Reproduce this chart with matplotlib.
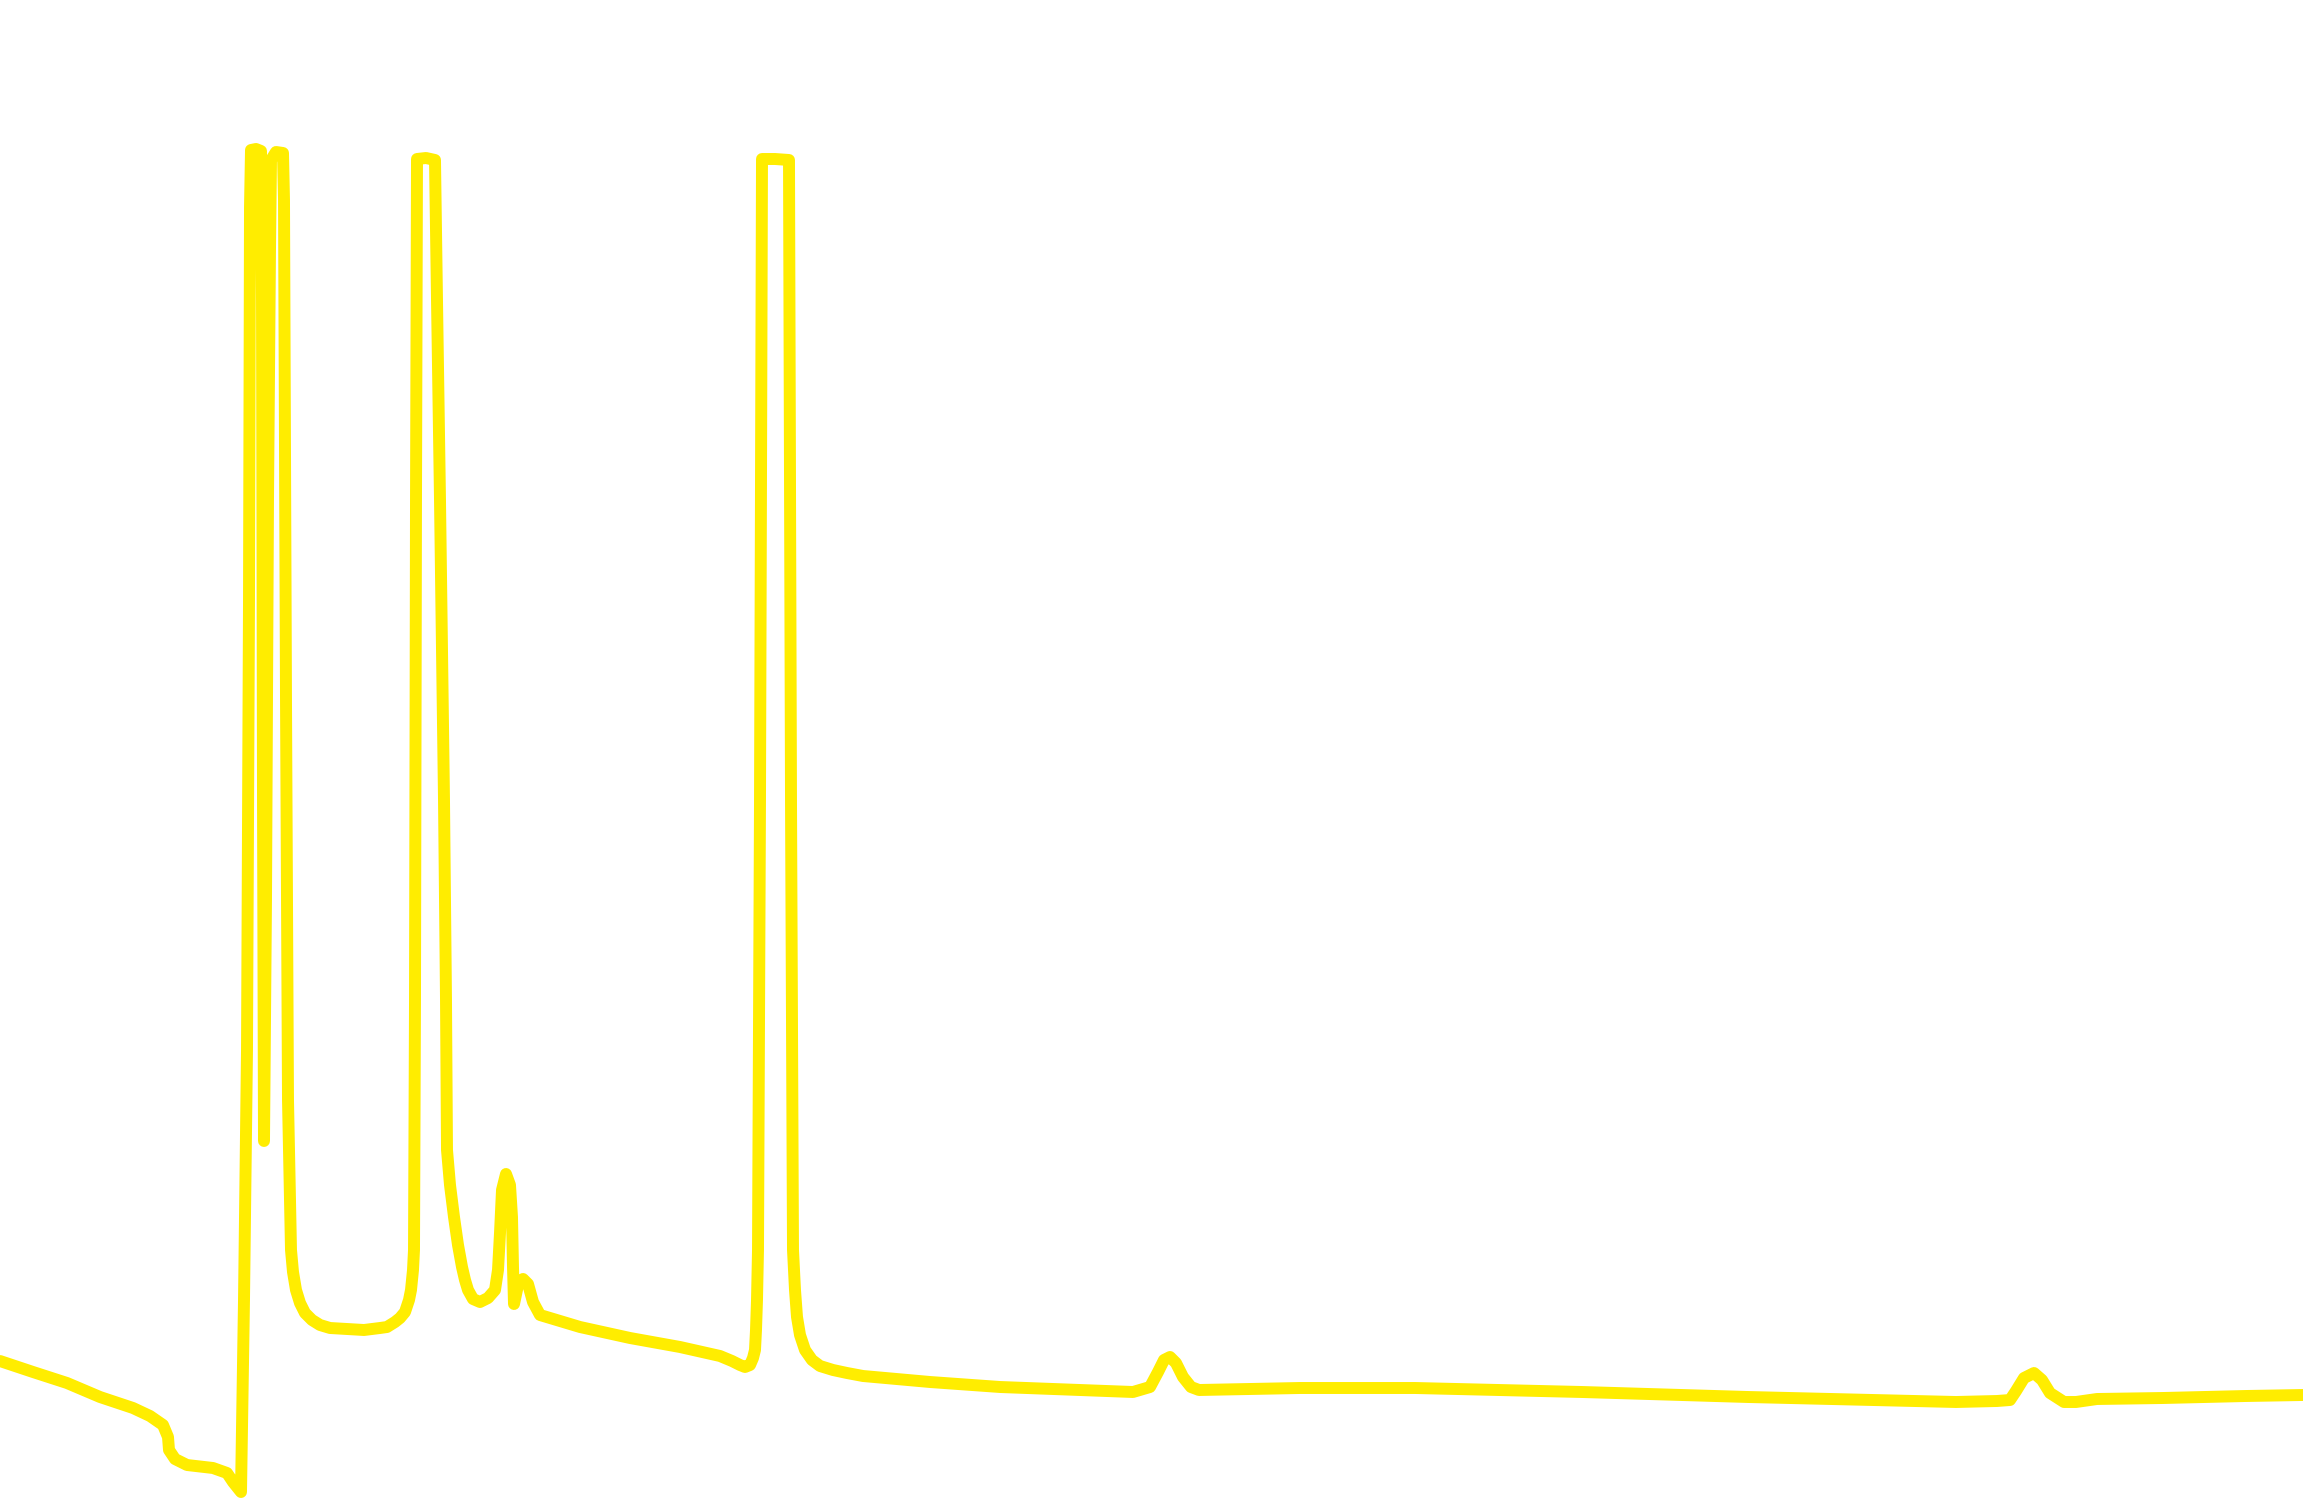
import matplotlib
matplotlib.use('Agg')
import matplotlib.pyplot as plt

# Chromatogram trace (retention time in min, signal in mAU)
retention_time = [
    0.00, 0.33, 0.67, 1.00, 1.33, 1.50, 1.63, 1.68, 1.69, 1.75, 1.87, 2.13, 2.27, 2.33, 2.41,
    2.44, 2.47, 2.49, 2.50, 2.51, 2.56, 2.61, 2.62, 2.63, 2.64, 2.66, 2.68, 2.70, 2.71, 2.76,
    2.83, 2.84, 2.86, 2.88, 2.91, 2.93, 2.96, 3.00, 3.05, 3.12, 3.20, 3.30, 3.64, 3.80, 3.87,
    3.95, 4.00, 4.05, 4.09, 4.11, 4.13, 4.14, 4.15, 4.16, 4.17, 4.26, 4.35, 4.37, 4.40, 4.42,
    4.44, 4.46, 4.47, 4.50, 4.54, 4.58, 4.62, 4.65, 4.68, 4.73, 4.80, 4.88,
    4.95, 4.98, 5.00, 5.02, 5.06, 5.10, 5.12, 5.13, 5.14, 5.18, 5.23, 5.28, 5.33, 5.40, 5.80,
    6.30, 6.80, 7.20, 7.32, 7.40, 7.45, 7.50, 7.53, 7.55, 7.56, 7.57, 7.58, 7.60, 7.62, 7.75,
    7.89, 7.91, 7.93, 7.95, 7.97, 8.00, 8.05, 8.12, 8.20, 8.33, 8.47, 8.63, 9.30, 10.00,
    11.33, 11.50, 11.58, 11.64, 11.70, 11.76, 11.83, 11.91, 11.99, 13.00, 14.15, 15.82, 17.48,
    19.56, 19.97, 20.10, 20.16, 20.24, 20.34, 20.42, 20.50, 20.64, 20.76, 20.97, 21.63, 22.46,
    23.03,
]
signal = [
    14.1, 13.0, 11.9, 10.5, 9.4, 8.6, 7.7, 6.5, 5.2, 4.3, 3.7, 3.4, 2.9, 2.0, 1.0,
    20.2, 45.2, 90.2, 129.5, 135.2, 135.3, 135.1, 120.2, 70.2, 36.1, 60.2, 100.2, 125.2, 134.2, 135.0,
    134.9, 130.2, 80.2, 40.2, 25.2, 23.0, 21.2, 19.9, 18.9, 18.2, 17.7, 17.4, 17.2, 17.4, 17.5,
    18.0, 18.4, 19.0, 20.2, 21.2, 23.2, 25.2, 50.2, 100.2, 134.3, 134.4, 134.2, 120.2, 100.2, 85.2,
    70.2, 50.2, 35.2, 31.7, 28.5, 25.7, 23.5, 22.2, 21.2, 20.3, 20.0, 20.4,
    21.2, 23.2, 26.9, 31.2, 32.8, 31.7, 28.5, 23.5, 19.8, 21.7, 22.3, 21.8, 20.0, 18.7, 17.5,
    16.4, 15.5, 14.6, 14.1, 13.7, 13.5, 13.7, 14.4, 15.2, 17.2, 20.2, 25.2, 70.2, 134.3, 134.3,
    134.2, 70.2, 25.2, 21.2, 18.5, 16.7, 15.2, 14.2, 13.6, 13.2, 12.9, 12.6, 12.0, 11.5,
    11.0, 11.5, 13.0, 14.2, 14.5, 13.9, 12.5, 11.5, 11.2, 11.4, 11.4, 11.0, 10.5,
    10.0, 10.1, 10.2, 11.1, 12.4, 12.9, 12.2, 10.9, 10.0, 10.0, 10.3, 10.4, 10.6,
    10.7,
]

TRACE_COLOR = '#ffed00'

fig = plt.figure(figsize=(23.03, 15.02), dpi=100)
fig.patch.set_facecolor('white')
ax = fig.add_axes([0, 0, 1, 1])
ax.plot(retention_time, signal, color=TRACE_COLOR, linewidth=8.6,
        solid_joinstyle='round', solid_capstyle='round')
ax.set_xlim(0, 23.03)
ax.set_ylim(0, 150.2)
ax.axis('off')

fig.savefig('out.png', dpi=100, facecolor='white')
